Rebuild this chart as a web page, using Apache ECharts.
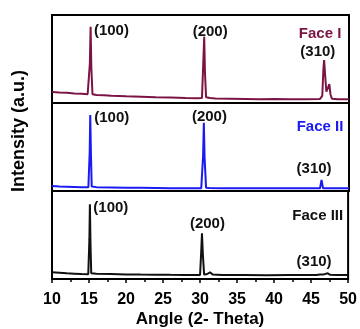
<!DOCTYPE html>
<html>
<head>
<meta charset="utf-8">
<script src="https://cdn.jsdelivr.net/npm/echarts@6/dist/echarts.min.js"></script>
<style>
  html, body { margin: 0; padding: 0; background: #fff; }
  #chart { width: 360px; height: 329px; }
</style>
</head>
<body>
<div id="chart"></div>
<script>
// XRD patterns, intensity in arbitrary units (0-100 per panel)
const face1 = [
  [10, 12.5], [11, 11.8], [12, 11.6], [13, 10.9], [14, 10.4], [14.8, 9.9],
  [15.0, 10.5], [15.1, 45], [15.2, 86.7], [15.3, 40], [15.45, 10], [16, 9.1],
  [17, 8.8], [18, 8.2], [19, 8.0], [20, 7.6], [22, 7.2], [24, 6.6], [26, 6.2],
  [28, 5.6], [29.5, 5.4], [30.2, 5.8], [30.35, 40], [30.5, 75.3], [30.6, 35],
  [30.75, 6.5], [31.0, 7.0], [31.3, 5.6], [32, 5.0], [34, 4.8], [36, 4.6],
  [38, 4.4], [40, 4.6], [42, 4.3], [44, 4.4], [46.1, 4.6], [46.4, 8],
  [46.55, 38], [46.65, 48.9], [46.8, 30], [46.95, 12.8], [47.2, 18],
  [47.35, 21.6], [47.5, 10], [47.7, 4.8], [48.5, 4.4], [50, 4.2]
];
const face2 = [
  [10, 5.6], [11, 5.0], [12, 4.8], [13, 4.6], [14, 4.4], [14.9, 4.2],
  [15.0, 4.8], [15.08, 45], [15.15, 86.4], [15.25, 40], [15.35, 5.0], [16, 4.4],
  [18, 4.1], [20, 3.8], [22, 3.6], [24, 3.4], [26, 3.2], [28, 3.1], [30.1, 3.2],
  [30.35, 40], [30.45, 77.6], [30.55, 38], [30.75, 3.6], [31.2, 3.4], [33, 3.1],
  [36, 3.0], [39, 3.0], [42, 3.0], [45, 3.0], [46.1, 3.1], [46.3, 12.5],
  [46.5, 3.2], [48, 3.0], [50, 3.0]
];
const face3 = [
  [10, 7.6], [11, 7.0], [12, 6.4], [13, 6.0], [14, 5.6], [14.9, 5.3],
  [15.0, 6.0], [15.05, 45], [15.12, 84.9], [15.2, 40], [15.3, 6.5], [16, 6.0],
  [18, 5.6], [20, 5.2], [22, 5.0], [24, 4.9], [26, 4.7], [28, 4.6], [30.0, 4.6],
  [30.15, 30], [30.26, 51.9], [30.38, 28], [30.55, 5.0], [30.9, 5.4],
  [31.35, 7.6], [31.7, 5.0], [33, 4.6], [36, 4.5], [39, 4.4], [42, 4.5],
  [45, 4.5], [45.7, 4.6], [45.9, 6.5], [46.2, 5.2], [46.6, 5.0], [47.25, 6.5],
  [47.6, 4.8], [48.5, 4.5], [50, 4.5]
];

// peak / sample annotations per panel: [x, y, text]
const notes1 = [[18.0, 82.2, '(100)'], [31.3, 81.0, '(200)'], [45.8, 58.3, '(310)'], [46.1, 78.4, 'Face I']];
const notes2 = [[18.05, 82.6, '(100)'], [31.2, 84.4, '(200)'], [45.3, 24.6, '(310)'], [46.1, 72.4, 'Face II']];
const notes3 = [[17.95, 81.0, '(100)'], [31.0, 62.2, '(200)'], [45.4, 19.7, '(310)'], [45.9, 71.9, 'Face III']];

const xTicks = [10, 15, 20, 25, 30, 35, 40, 45, 50];

const colors = ['#7b1445', '#1a1af2', '#111111'];
const FONT = '"Liberation Sans", Arial, sans-serif';

const chart = echarts.init(document.getElementById('chart'), null, { renderer: 'canvas' });

const panelTops = [15, 103, 191];
const grids = panelTops.map((t) => ({
  left: 52, right: 11, top: t, height: 88,
  show: true, borderColor: '#000', borderWidth: 2, backgroundColor: 'transparent'
}));

const xAxes = [0, 1, 2].map((i) => ({
  type: 'value', gridIndex: i, min: xTicks[0], max: xTicks[xTicks.length - 1], interval: 5,
  axisLine: { show: false },
  splitLine: { show: false },
  axisTick: { show: i === 2, inside: false, length: 4, lineStyle: { color: '#000', width: 1.5 } },
  minorTick: { show: i === 2, splitNumber: 2, length: 3, lineStyle: { color: '#000', width: 1.5 } },
  axisLabel: {
    show: i === 2, margin: 13, color: '#000', fontFamily: FONT, fontWeight: 'bold', fontSize: 16
  },
  name: i === 2 ? 'Angle (2- Theta)' : '',
  nameLocation: 'middle', nameGap: 32,
  nameTextStyle: { color: '#000', fontFamily: FONT, fontWeight: 'bold', fontSize: 17 }
}));

const yAxes = [0, 1, 2].map((i) => ({
  type: 'value', gridIndex: i, min: 0, max: 100,
  axisLine: { show: false }, axisTick: { show: false },
  axisLabel: { show: false }, splitLine: { show: false }
}));

const lines = [face1, face2, face3].map((d, i) => ({
  type: 'line', xAxisIndex: i, yAxisIndex: i, data: d,
  showSymbol: false, symbol: 'none', silent: true,
  lineStyle: { color: colors[i], width: 2 }
}));

const notes = [notes1, notes2, notes3].map((arr, i) => ({
  type: 'scatter', xAxisIndex: i, yAxisIndex: i, symbolSize: 0, silent: true,
  itemStyle: { opacity: 1 },
  data: arr.map((n) => ({
    value: [n[0], n[1]],
    label: { color: n[2].startsWith('Face') ? colors[i] : '#111' },
    name: n[2]
  })),
  label: {
    show: true, position: 'inside', formatter: (p) => p.name,
    fontFamily: FONT, fontWeight: 'bold', fontSize: 15
  }
}));

chart.setOption({
  animation: false,
  grid: grids,
  xAxis: xAxes,
  yAxis: yAxes,
  series: [...lines, ...notes],
  graphic: [{
    type: 'text', x: 19, y: 131,
    rotation: Math.PI / 2,
    style: {
      text: 'Intensity (a.u.)', fill: '#000',
      font: 'bold 18px ' + FONT,
      align: 'center', verticalAlign: 'middle'
    }
  }]
});
</script>
</body>
</html>
